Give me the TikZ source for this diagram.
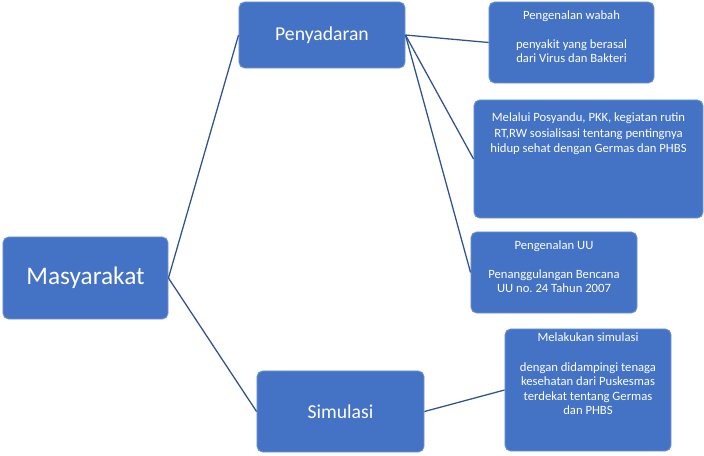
\documentclass[tikz,border=0pt]{standalone}
\usepackage{fontspec}
\setmainfont{Carlito}
\usetikzlibrary{positioning}

\definecolor{boxblue}{HTML}{4472C4}
\definecolor{lineblue}{HTML}{2F528F}

\tikzset{
    box/.style={rectangle,rounded corners=4pt,fill=boxblue,draw=boxblue!75!white,
        line width=0.6pt,text=white,inner sep=0pt},
    note/.style={text=white,align=center,font=\fontsize{9}{10.4}\selectfont,inner sep=0pt},
    link/.style={draw=lineblue,line width=0.9pt}
}

\begin{document}
\begin{tikzpicture}[x=0.025cm,y=-0.025cm]
\useasboundingbox (0,0) rectangle (704,455);

% main levels
\node[box,minimum width=4.125cm,minimum height=2.05cm,font=\fontsize{18}{20}\selectfont] (masy) at (85.5,278) {Masyarakat};
\node[box,minimum width=4.15cm,minimum height=1.65cm,font=\fontsize{14}{16}\selectfont] (peny) at (322,35) {Penyadaran};
\node[box,minimum width=4.175cm,minimum height=2.025cm,font=\fontsize{14}{16}\selectfont] (simu) at (340.5,411.5) {Simulasi};

% detail boxes
\node[box,minimum width=4.125cm,minimum height=2.025cm] (wabah) at (571.5,42.5) {};
\node[box,minimum width=5.725cm,minimum height=2.95cm] (posy) at (588.5,159) {};
\node[box,minimum width=4.15cm,minimum height=2.025cm] (uu) at (554,272.5) {};
\node[box,minimum width=4.15cm,minimum height=3.05cm] (simbox) at (588,390) {};

\node[note,anchor=north] (wabahtxt) at ([yshift=-6pt]wabah.north) {Pengenalan wabah\\[10.4pt]penyakit yang berasal\\dari Virus dan Bakteri};
\node[note,anchor=north,font=\fontsize{9}{11}\selectfont] (posytxt) at ([yshift=-9.5pt]posy.north) {Melalui Posyandu, PKK, kegiatan rutin\\RT,RW sosialisasi tentang pentingnya\\hidup sehat dengan Germas dan PHBS};
\node[note,anchor=north] (uutxt) at ([yshift=-6pt]uu.north) {Pengenalan UU\\[10.4pt]Penanggulangan Bencana\\UU no.\ 24 Tahun 2007};
\node[note,anchor=north] (simtxt) at ([yshift=-3pt]simbox.north) {Melakukan simulasi\\[10.4pt]dengan didampingi tenaga\\kesehatan dari Puskesmas\\terdekat tentang Germas\\dan PHBS};

% connectors
\draw[link] (masy.east) -- (peny.west);
\draw[link] (masy.east) -- (simu.west);
\draw[link] (peny.east) -- (wabah.west);
\draw[link] (peny.east) -- (posy.west);
\draw[link] (peny.east) -- (uu.west);
\draw[link] (simu.east) -- (simbox.west);
\end{tikzpicture}
\end{document}
